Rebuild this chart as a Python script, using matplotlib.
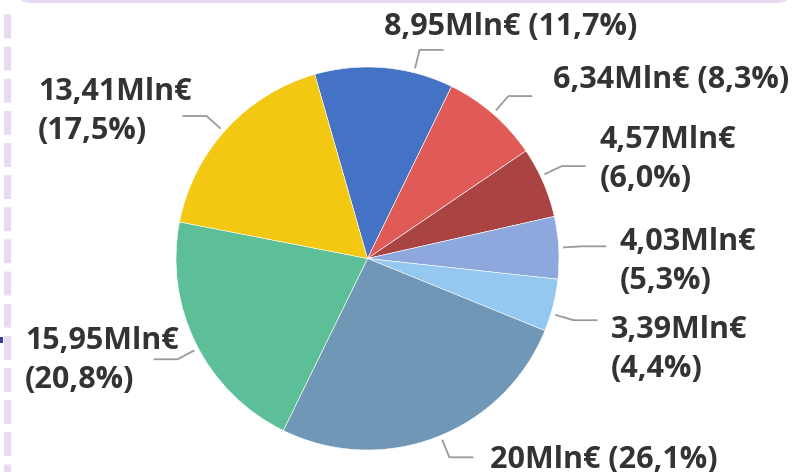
import numpy as np
import matplotlib
matplotlib.use('Agg')
import matplotlib.pyplot as plt
from matplotlib.patches import FancyBboxPatch, Rectangle

# DATA (Mln€), clockwise from the top
values = [8.95, 6.34, 4.57, 4.03, 3.39, 20, 15.95, 13.41]
colors = ['#4472C4', '#E05B57', '#A94442', '#8EA8DD', '#94C8F0', '#7097B5', '#5CBF98', '#F2C813']

total = sum(values)
def fmt(v):
    return ('%g' % v).replace('.', ',') + 'Mln€'
pcts = ['(%s%%)' % ('%.1f' % (v / total * 100)).replace('.', ',') for v in values]

# label layout: (x left, y of first line, split in two lines, extra angle for leader)
label_pos = [(384, 27, False, 9), (553, 80, False, 0), (600, 140, True, -2),
             (620, 242, True, 0), (611, 330, True, 2.5), (490, 460, False, -1.5),
             (25, 341, True, -1.5), (38, 92, True, -1)]

fig = plt.figure(figsize=(8.01, 4.72), dpi=100)
ax = fig.add_axes([0, 0, 1, 1])

cx, cy, R = 367.5, 258.5, 191.5
wedges, _ = ax.pie(values, colors=colors, startangle=-106, counterclock=True,
                   center=(cx, cy), radius=R,
                   wedgeprops=dict(linewidth=0.4, edgecolor='white'))
ax.set_xlim(0, 801)
ax.set_ylim(472, 0)
ax.set_aspect('equal')
ax.axis('off')

font = dict(family=['Open Sans', 'DejaVu Sans'], weight='bold', size=22, color='#333333')

for w, v, p, (lx, ly, two, dang) in zip(wedges, values, pcts, label_pos):
    mid = np.deg2rad((w.theta1 + w.theta2) / 2 + dang)
    dx, dy = np.cos(mid), np.sin(mid)
    x0, y0 = cx + 196 * dx, cy + 196 * dy
    x1, y1 = cx + 215 * dx, cy + 215 * dy
    side = 1 if dx >= 0 else -1
    ax.plot([x0, x1, x1 + 24 * side], [y0, y1, y1], color='#9A9A9A', lw=1.3,
            solid_capstyle='butt')
    if two:
        ax.text(lx, ly, fmt(v), ha='left', va='center', **font)
        ax.text(lx, ly + 39, p, ha='left', va='center', **font)
    else:
        ax.text(lx, ly, fmt(v) + ' ' + p, ha='left', va='center', **font)

# frame decorations
ax.add_patch(FancyBboxPatch((18, -30), 772, 33, boxstyle='round,pad=0,rounding_size=12',
                            facecolor='#E6DBF1', edgecolor='none', clip_on=False))
ax.plot([6.5, 6.5], [14, 472], color='#E6DBF1', lw=5.2, dashes=(3.3, 1.15),
        solid_capstyle='butt')
ax.add_patch(Rectangle((0, 337), 3, 6, facecolor='#3B3B9A', edgecolor='none'))

fig.savefig('out.png', dpi=100)
